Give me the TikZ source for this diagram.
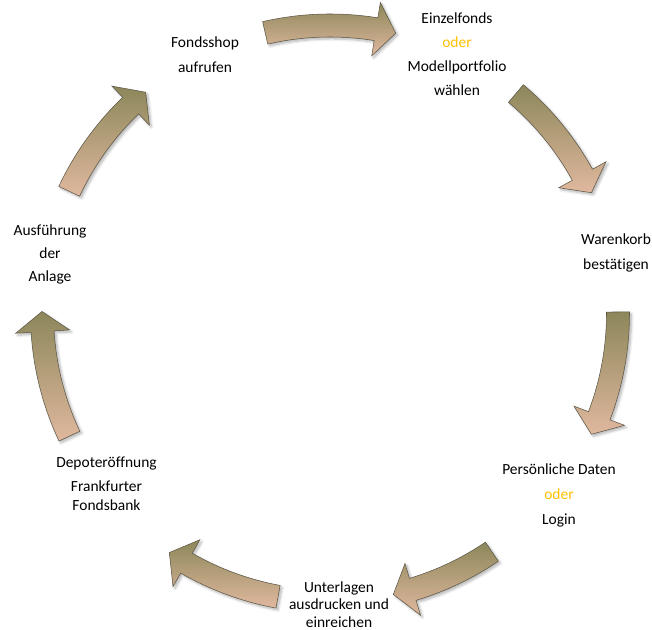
\documentclass[tikz,border=0pt]{standalone}
\usepackage{fontspec}
\setmainfont{Carlito}[Ligatures=NoCommon]
\usetikzlibrary{shadows.blur}
\definecolor{arrowolive}{HTML}{8C875A}
\definecolor{arrowtan}{HTML}{E0B89E}
\definecolor{arrowedge}{HTML}{5C5646}
\definecolor{odergold}{HTML}{FFC000}

\begin{document}
\begin{tikzpicture}[x=0.75pt, y=0.75pt,
  cycarrow/.style={draw=arrowedge, line width=0.4pt, top color=arrowolive, bottom color=arrowtan,
    blur shadow={shadow xshift=1.5pt, shadow yshift=-1.5pt, shadow blur steps=6, shadow opacity=30}},
  cyctext/.style={font=\fontsize{11.6}{#1}\selectfont, align=center, inner sep=0pt}]
\useasboundingbox (0,0) rectangle (652,630);
\newcommand\cx{330}
\newcommand\cy{316.5}
\newcommand\rmid{288}
\newcommand\rout{299.5}
\newcommand\rin{276.5}
\newcommand\hout{315}
\newcommand\hin{261}
\newcommand\headang{4}
% arrows, clockwise between the steps (tail angle / tip angle)
\begin{scope}[shift={(\cx,\cy)}]
\foreach \ta/\tb in {103/76.8, 49.8/24.8, 0.3/-24.8, -55.8/-77.3, -100.4/-123.9, 205.2/179.6, 154.9/129.8}
{
\draw[cycarrow] (\ta:\rout) arc[start angle=\ta, end angle=\tb+\headang, radius=\rout]
  -- ({\tb+\headang}:\hout) -- (\tb:\rmid) -- ({\tb+\headang}:\hin)
  -- ({\tb+\headang}:\rin) arc[start angle=\tb+\headang, end angle=\ta, radius=\rin] -- cycle;
}
\end{scope}

% steps
\node[cyctext=18.75] (shop) at (205, 575.5) {Fondsshop\\aufrufen};
\node[cyctext=18] (fonds) at (457, 576) {Einzelfonds\\\textcolor{odergold}{oder}\\Modellportfolio\\wählen};
\node[cyctext=18.75] (korb) at (616, 377.5) {Warenkorb\\bestätigen};
\node[cyctext=18.75] (daten) at (559, 135) {Persönliche Daten\\\textcolor{odergold}{oder}\\Login};
\node[cyctext=13.1] (unterlagen) at (339, 25.5) {Unterlagen\\ausdrucken und\\einreichen};
\node[cyctext=14.25] (depot) at (106.5, 146.5) {Depoteröffnung\\[3.75pt]Frankfurter\\Fondsbank};
\node[cyctext=16.9] (anlage) at (50, 375.5) {Ausführung\\der\\Anlage};
\end{tikzpicture}
\end{document}
